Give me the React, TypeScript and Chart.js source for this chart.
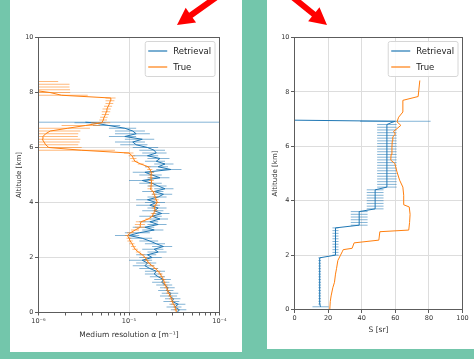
import React, { useEffect, useRef } from 'react';
import { Chart, registerables } from 'chart.js';
Chart.register(...registerables);

// ---------- Left panel: extinction profile (alpha in units of 1e-6 m^-1) ----------
const ALT_TRUE = [
  0.0, 0.1, 0.2, 0.3, 0.4, 0.5, 0.6, 0.7, 0.8, 0.9,
  1.0, 1.1, 1.2, 1.3, 1.4, 1.5, 1.6, 1.7, 1.8, 1.9,
  2.0, 2.1, 2.2, 2.3, 2.4, 2.5, 2.6, 2.7, 2.8, 2.9,
  3.0, 3.1, 3.2, 3.3, 3.4, 3.5, 3.6, 3.7, 3.8, 3.9,
  4.0, 4.1, 4.2, 4.3, 4.4, 4.5, 4.6, 4.7, 4.8, 4.9,
  5.0, 5.1, 5.2, 5.3, 5.4, 5.5, 5.6, 5.7, 5.8, 5.9,
  6.0, 6.1, 6.2, 6.3, 6.4, 6.5, 6.6, 6.7, 6.8, 6.9,
  7.0, 7.1, 7.2, 7.3, 7.4, 7.5, 7.6, 7.7, 7.8, 7.9,
  8.0, 8.1, 8.2, 8.3, 8.4,
];
const ALPHA_TRUE = [
  33.4, 33.0, 32.5, 31.0, 30.0, 29.5, 28.6, 27.5, 27.0, 26.0,
  25.2, 24.5, 24.0, 23.0, 22.2, 21.0, 19.5, 18.0, 16.5, 15.8,
  15.1, 14.0, 12.7, 11.7, 11.2, 10.8, 10.3, 10.0, 9.6, 10.4,
  11.7, 13.3, 13.3, 13.6, 16.3, 18.1, 18.6, 19.5, 19.0, 19.5,
  20.6, 20.0, 19.5, 19.0, 18.5, 17.1, 17.5, 17.7, 17.7, 17.5,
  17.5, 17.7, 17.0, 16.3, 13.5, 11.6, 11.2, 10.8, 10.0, 3.0,
  1.3, 1.2, 1.15, 1.1, 1.12, 1.2, 1.35, 2.1, 3.3, 5.0,
  5.2, 5.3, 5.5, 5.6, 5.7, 5.9, 6.1, 6.2, 6.3, 1.8,
  1.34, 0.8, 0.7, 0.7, 0.7,
];
const ALPHA_TRUE_ERR = [
  2.0, 2.0, 1.9, 1.9, 1.8, 1.8, 1.7, 1.7, 1.6, 1.6,
  1.5, 1.5, 1.4, 1.4, 1.3, 1.3, 1.2, 1.1, 1.0, 1.0,
  0.9, 0.9, 0.8, 0.8, 0.7, 0.7, 0.7, 0.6, 0.6, 0.9,
  1.2, 1.7, 1.7, 1.7, 1.1, 1.2, 1.2, 1.2, 1.2, 1.2,
  1.3, 1.3, 1.2, 1.2, 1.2, 1.1, 1.1, 1.1, 1.1, 1.1,
  1.1, 1.1, 1.1, 1.0, 1.0, 0.9, 0.9, 0.9, 1.2, 4.0,
  1.7, 1.55, 1.7, 1.8, 1.6, 1.55, 1.55, 1.6, 1.5, 1.2,
  0.5, 0.5, 0.5, 0.6, 0.6, 0.6, 0.6, 0.7, 0.8, 1.7,
  0.9, 1.43, 1.5, 1.5, 0.95,
];

const ALT_RET = [
  0.0, 0.1, 0.2, 0.3, 0.4, 0.5, 0.6, 0.7, 0.8, 0.9,
  1.0, 1.1, 1.2, 1.3, 1.4, 1.5, 1.6, 1.7, 1.8, 1.9,
  2.0, 2.1, 2.2, 2.3, 2.4, 2.5, 2.6, 2.7, 2.8, 2.9,
  3.0, 3.1, 3.2, 3.3, 3.4, 3.5, 3.6, 3.7, 3.8, 3.9,
  4.0, 4.1, 4.2, 4.3, 4.4, 4.5, 4.6, 4.7, 4.8, 4.9,
  5.0, 5.1, 5.2, 5.3, 5.4, 5.5, 5.6, 5.7, 5.8, 5.9,
  6.0, 6.1, 6.2, 6.3, 6.4, 6.5, 6.6, 6.7, 6.8, 6.9,
  6.92,
];
const ALPHA_RET = [
  34, 36, 32, 35, 30, 31, 28, 29, 26, 27,
  25, 23, 24, 21, 19, 20, 17, 15, 16, 14,
  18, 16, 21, 19, 24, 20, 17, 14, 10, 13,
  19, 15, 21, 17, 22, 18, 23, 19, 21, 17,
  20, 16, 21, 24, 19, 25, 21, 18, 14, 22,
  18, 15, 29, 21, 25, 20, 22, 16, 20, 19,
  16, 12, 11, 14, 9, 12, 11, 9, 6, 4,
  3.3,
];
const ALPHA_RET_ERR = [
  8, 7, 6, 7, 6, 6, 6, 6, 5, 5,
  5, 5, 5, 4, 4, 5, 4, 4, 4, 4,
  5, 4, 5, 5, 6, 5, 4, 4, 3, 4,
  5, 4, 5, 4, 5, 5, 5, 5, 5, 5,
  5, 4, 5, 6, 5, 6, 5, 5, 4, 6,
  5, 4, 9, 6, 6, 5, 6, 5, 6, 6,
  5, 4, 4, 5, 3, 5, 4, 3, 2, 1.5,
  1000,
];

const LOG_MAJOR = [1, 10, 100];
const LOG_MAJOR_LABELS = ['10\u207B\u2076', '10\u207B\u2075', '10\u207B\u2074'];
const LOG_MINOR = [2, 3, 4, 5, 6, 7, 8, 9, 20, 30, 40, 50, 60, 70, 80, 90];

// ---------- Right panel: lidar ratio S [sr] ----------
const ALT_S_TRUE = [
  0.0, 0.3, 0.5, 0.8, 1.0, 1.3, 1.5, 1.8, 2.0, 2.12, 2.2, 2.25, 2.45, 2.55, 2.86, 2.92,
  3.2, 3.5, 3.77, 3.85, 4.2, 4.5, 4.75, 5.06, 5.37, 5.49, 5.7, 5.97, 6.2, 6.34, 6.45,
  6.55, 6.65, 6.77, 6.9, 7.07, 7.26, 7.69, 7.83, 8.42,
];
const S_TRUE = [
  21.0, 21.3, 21.8, 22.8, 23.8, 24.4, 25.0, 25.8, 27.4, 28.4, 29.0, 34.3, 35.5, 50.2, 50.8, 68.0,
  68.5, 68.8, 68.3, 65.0, 65.0, 64.5, 62.6, 61.0, 59.7, 57.3, 57.5, 58.0, 58.2, 58.5, 60.0,
  59.0, 61.0, 63.3, 61.0, 62.0, 64.5, 64.5, 73.6, 74.6,
];

const ALT_S_RET = [
  0.1, 0.2, 0.3, 0.4, 0.5, 0.6, 0.7, 0.8, 0.9, 1.0,
  1.1, 1.2, 1.3, 1.4, 1.5, 1.6, 1.7, 1.8, 1.9, 2.0,
  2.1, 2.2, 2.3, 2.4, 2.5, 2.6, 2.7, 2.8, 2.9, 3.0,
  3.1, 3.2, 3.3, 3.4, 3.5, 3.6, 3.7, 3.8, 3.9, 4.0,
  4.1, 4.2, 4.3, 4.4, 4.5, 4.6, 4.7, 4.8, 4.9, 5.0,
  5.1, 5.2, 5.3, 5.4, 5.5, 5.6, 5.7, 5.8, 5.9, 6.0,
  6.1, 6.2, 6.3, 6.4, 6.5, 6.6, 6.7, 6.8, 6.88, 6.92,
  6.97,
];
const S_RET = [
  15.5, 15, 15, 15, 15, 15, 15, 15, 15, 15,
  15, 15, 15, 15, 15, 15, 15, 15, 15, 24.4,
  24.4, 24.4, 24.4, 24.4, 24.4, 24.4, 24.4, 24.4, 24.4, 24.4,
  38.5, 38.5, 38.5, 38.5, 38.5, 38.5, 48, 48, 48, 48,
  48, 48, 48, 48, 55, 55, 55, 55, 55, 55,
  55, 55, 55, 55, 55, 55, 55, 55, 55, 55,
  55, 55, 55, 55, 55, 55, 55, 55, 58, 60,
  -14,
];
const S_RET_ERR = [
  4.8, 0.8, 0.8, 0.8, 0.8, 0.8, 0.8, 0.8, 0.8, 0.8,
  0.8, 0.8, 0.8, 0.8, 0.8, 0.8, 0.8, 0.8, 0.8, 1.8,
  1.8, 1.8, 1.8, 1.8, 1.8, 1.8, 1.8, 1.8, 1.8, 1.8,
  5, 5, 5, 5, 5, 5, 5, 5, 5, 5,
  5, 5, 5, 5, 5.8, 5.8, 5.8, 5.8, 5.8, 5.8,
  5.8, 5.8, 5.8, 5.8, 5.8, 5.8, 5.8, 5.8, 5.8, 5.8,
  5.8, 5.8, 5.8, 5.8, 5.8, 5.8, 5.8, 5.8, 0, 21,
  0,
];

const BLUE = '#1f77b4';
const ORANGE = '#ff7f0e';
const BLUE_ERR = 'rgba(31,119,180,0.55)';
const ORANGE_ERR = 'rgba(255,127,14,0.55)';
const FONT = 'DejaVu Sans';
const TEXT = '#333333';
const GRID = '#dddddd';
const SPINE = '#5c5c5c';

const errorBarPlugin = {
  id: 'errBars',
  beforeDatasetDraw(chart: any, args: any) {
    const ds: any = chart.data.datasets[args.index];
    if (!ds.errs) return;
    const xs = chart.scales.x;
    const ys = chart.scales.y;
    const { ctx, chartArea: a } = chart;
    ctx.save();
    ctx.beginPath();
    ctx.rect(a.left, a.top, a.right - a.left, a.bottom - a.top);
    ctx.clip();
    ctx.strokeStyle = ds.errColor;
    ctx.lineWidth = 1;
    ds.data.forEach((p: any, i: number) => {
      const e = ds.errs[i];
      if (!e) return;
      let lo = p.x - e;
      const hi = p.x + e;
      if (xs.type === 'logarithmic' && lo <= 0) lo = xs.min / 1000;
      const x0 = xs.getPixelForValue(lo);
      const x1 = xs.getPixelForValue(hi);
      const y = ys.getPixelForValue(p.y);
      ctx.beginPath();
      ctx.moveTo(x0, y);
      ctx.lineTo(x1, y);
      ctx.stroke();
    });
    ctx.restore();
  },
};

const frameLegendPlugin = {
  id: 'frameLegend',
  afterDraw(chart: any) {
    const { ctx, chartArea: a } = chart;
    ctx.save();
    ctx.strokeStyle = SPINE;
    ctx.lineWidth = 1;
    ctx.strokeRect(a.left, a.top, a.right - a.left, a.bottom - a.top);

    const fs = 8.5;
    ctx.font = `${fs}px "${FONT}"`;
    const items = chart.data.datasets.map((d: any) => ({ label: d.label, color: d.borderColor }));
    const tw = Math.max(...items.map((it: any) => ctx.measureText(it.label).width));
    const w = 3 + 19 + 6 + tw + 4;
    const h = 35;
    const x = a.right - 4.5 - w;
    const y = a.top + 4;
    ctx.beginPath();
    const r = 2;
    ctx.moveTo(x + r, y);
    ctx.lineTo(x + w - r, y);
    ctx.quadraticCurveTo(x + w, y, x + w, y + r);
    ctx.lineTo(x + w, y + h - r);
    ctx.quadraticCurveTo(x + w, y + h, x + w - r, y + h);
    ctx.lineTo(x + r, y + h);
    ctx.quadraticCurveTo(x, y + h, x, y + h - r);
    ctx.lineTo(x, y + r);
    ctx.quadraticCurveTo(x, y, x + r, y);
    ctx.closePath();
    ctx.fillStyle = 'rgba(255,255,255,0.85)';
    ctx.fill();
    ctx.strokeStyle = '#d6d6d6';
    ctx.stroke();
    items.forEach((it: any, i: number) => {
      const yy = y + 9.5 + i * 16;
      ctx.strokeStyle = it.color;
      ctx.lineWidth = 1.2;
      ctx.beginPath();
      ctx.moveTo(x + 3, yy);
      ctx.lineTo(x + 22, yy);
      ctx.stroke();
      ctx.fillStyle = '#222';
      ctx.textBaseline = 'middle';
      ctx.textAlign = 'left';
      ctx.fillText(it.label, x + 28, yy + 0.5);
    });
    ctx.restore();
  },
};

function pts(xs: number[], ys: number[]) {
  return xs.map((x, i) => ({ x, y: ys[i] }));
}

function yAxis(titlePadTop: number) {
  return {
    type: 'linear',
    min: 0,
    max: 10,
    ticks: { stepSize: 2, color: TEXT, font: { size: 6.5, family: FONT }, padding: 1.5 },
    grid: { color: GRID, tickColor: SPINE, tickLength: 3.5, lineWidth: 1 },
    border: { display: false },
    title: {
      display: true,
      text: 'Altitude [km]',
      color: TEXT,
      font: { size: 7, family: FONT },
      padding: { top: titlePadTop, bottom: 0 },
    },
    afterFit: (s: any) => {
      s.width = 26;
      s.paddingTop = 0;
      s.paddingBottom = 0;
    },
  };
}

function lineDs(label: string, color: string, data: any[], errs: number[] | null, errColor: string, order: number) {
  return {
    label,
    data,
    showLine: true,
    borderColor: color,
    backgroundColor: color,
    borderWidth: 1,
    pointRadius: 0,
    pointHoverRadius: 0,
    tension: 0,
    order,
    errs,
    errColor,
  } as any;
}

export default function App() {
  const leftRef = useRef<HTMLCanvasElement>(null);
  const rightRef = useRef<HTMLCanvasElement>(null);

  useEffect(() => {
    Chart.defaults.font.family = FONT;
    const common = {
      animation: false,
      responsive: false,
      maintainAspectRatio: false,
      devicePixelRatio: 1,
      events: [],
      plugins: { legend: { display: false }, tooltip: { enabled: false } },
    };

    const left = new Chart(leftRef.current as HTMLCanvasElement, {
      type: 'scatter',
      data: {
        datasets: [
          lineDs('Retrieval', BLUE, pts(ALPHA_RET, ALT_RET), ALPHA_RET_ERR, BLUE_ERR, 2),
          lineDs('True', ORANGE, pts(ALPHA_TRUE, ALT_TRUE), ALPHA_TRUE_ERR, ORANGE_ERR, 1),
        ],
      },
      options: {
        ...common,
        layout: { padding: { top: 37.5, left: 2.5, right: 22.5, bottom: 9.5 } },
        scales: {
          x: {
            type: 'logarithmic',
            min: 1,
            max: 100,
            afterBuildTicks: (s: any) => {
              const all = [...LOG_MAJOR, ...LOG_MINOR].sort((p, q) => p - q);
              s.ticks = all.map((v) => ({ value: v }));
            },
            ticks: {
              autoSkip: false,
              maxRotation: 0,
              color: TEXT,
              font: { size: 6.5, family: FONT },
              padding: 1.5,
              callback: (v: any) => {
                const k = LOG_MAJOR.indexOf(Number(v));
                return k >= 0 ? LOG_MAJOR_LABELS[k] : '';
              },
            },
            grid: {
              color: (c: any) => (c.tick && LOG_MAJOR.indexOf(c.tick.value) >= 0 ? GRID : 'rgba(0,0,0,0)'),
              tickColor: SPINE,
              tickLength: 3,
              lineWidth: 1,
            },
            border: { display: false },
            title: {
              display: true,
              text: 'Medium resolution \u03B1 [m\u207B\u00B9]',
              color: TEXT,
              font: { size: 7.5, family: FONT },
              padding: { top: 0, bottom: 2.5 },
            },
            afterFit: (s: any) => {
              s.height = 30;
              s.paddingLeft = 0;
              s.paddingRight = 0;
            },
          },
          y: yAxis(2.3),
        },
      } as any,
      plugins: [errorBarPlugin, frameLegendPlugin],
    });

    const right = new Chart(rightRef.current as HTMLCanvasElement, {
      type: 'scatter',
      data: {
        datasets: [
          lineDs('Retrieval', BLUE, pts(S_RET, ALT_S_RET), S_RET_ERR, BLUE_ERR, 2),
          lineDs('True', ORANGE, pts(S_TRUE, ALT_S_TRUE), null, ORANGE_ERR, 1),
        ],
      },
      options: {
        ...common,
        layout: { padding: { top: 37.5, left: 1.5, right: 11.5, bottom: 9.5 } },
        scales: {
          x: {
            type: 'linear',
            min: 0,
            max: 100,
            ticks: { stepSize: 20, color: TEXT, font: { size: 6.5, family: FONT }, padding: 1.5, maxRotation: 0 },
            grid: { color: GRID, tickColor: SPINE, tickLength: 3.5, lineWidth: 1 },
            border: { display: false },
            title: {
              display: true,
              text: 'S [sr]',
              color: TEXT,
              font: { size: 7.5, family: FONT },
              padding: { top: 0, bottom: 5 },
            },
            afterFit: (s: any) => {
              s.height = 30;
              s.paddingLeft = 0;
              s.paddingRight = 0;
            },
          },
          y: yAxis(2.8),
        },
      } as any,
      plugins: [errorBarPlugin, frameLegendPlugin],
    });

    return () => {
      left.destroy();
      right.destroy();
    };
  }, []);

  const arrow = (tx: number, ty: number, ex: number, ey: number) => {
    const L = Math.hypot(ex - tx, ey - ty);
    const ux = (ex - tx) / L;
    const uy = (ey - ty) / L;
    const nx = -uy;
    const ny = ux;
    const hl = 17;
    const hw = 9;
    const sw = 3;
    const bx = tx + ux * hl;
    const by = ty + uy * hl;
    const p = [
      [tx, ty],
      [bx + nx * hw, by + ny * hw],
      [bx + nx * sw, by + ny * sw],
      [ex + nx * sw, ey + ny * sw],
      [ex - nx * sw, ey - ny * sw],
      [bx - nx * sw, by - ny * sw],
      [bx - nx * hw, by - ny * hw],
    ];
    return p.map((q) => q.join(',')).join(' ');
  };

  return (
    <div style={{ position: 'fixed', left: 0, top: 0, width: 474, height: 359, background: '#73c6ab', overflow: 'hidden' }}>
      <div style={{ position: 'absolute', left: 10, top: 0, width: 232, height: 352, background: '#ffffff' }}>
        <canvas ref={leftRef} width={232} height={352} style={{ display: 'block', width: 232, height: 352 }} />
      </div>
      <div style={{ position: 'absolute', left: 267, top: 0, width: 207, height: 349, background: '#ffffff' }}>
        <canvas ref={rightRef} width={207} height={349} style={{ display: 'block', width: 207, height: 349 }} />
      </div>
      <svg width={474} height={359} style={{ position: 'absolute', left: 0, top: 0, pointerEvents: 'none' }}>
        <polygon points={arrow(177, 25, 218, -4)} fill="#ff0000" />
        <polygon points={arrow(327, 25, 290, -5)} fill="#ff0000" />
      </svg>
    </div>
  );
}
